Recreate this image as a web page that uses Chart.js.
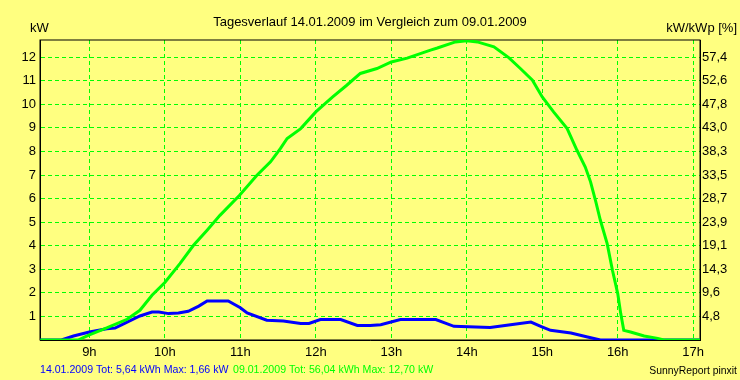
<!DOCTYPE html>
<html>
<head>
<meta charset="utf-8">
<script src="https://cdn.jsdelivr.net/npm/chart.js@4/dist/chart.umd.min.js"></script>
<style>
  html, body { margin: 0; padding: 0; background: #FFFF80; }
  #wrap { width: 740px; height: 380px; }
</style>
</head>
<body>
<div id="wrap"><canvas id="c" width="740" height="380"></canvas></div>
<script>
// ---- data (time in decimal hours, power in kW) ----
const titleText = 'Tagesverlauf 14.01.2009 im Vergleich zum 09.01.2009';
const leftUnit = 'kW';
const rightUnit = 'kW/kWp [%]';
const blueLegend = '14.01.2009 Tot: 5,64 kWh Max: 1,66 kW';
const greenLegend = '09.01.2009 Tot: 56,04 kWh Max: 12,70 kW';
const footerText = 'SunnyReport pinxit';

const xTickValues = [9, 10, 11, 12, 13, 14, 15, 16, 17];
const xTickLabels = ['9h', '10h', '11h', '12h', '13h', '14h', '15h', '16h', '17h'];
const yTickValues = [1, 2, 3, 4, 5, 6, 7, 8, 9, 10, 11, 12];
const yTickLabels = ['1', '2', '3', '4', '5', '6', '7', '8', '9', '10', '11', '12'];
const y2TickLabels = ['4,8', '9,6', '14,3', '19,1', '23,9', '28,7', '33,5', '38,3', '43,0', '47,8', '52,6', '57,4'];

const greenTimes = [8.35, 8.85, 9.00, 9.23, 9.50, 9.67, 9.83, 10.00, 10.20, 10.38, 10.56, 10.73, 10.99, 11.22, 11.40, 11.53, 11.62, 11.80, 12.00, 12.22, 12.41, 12.59, 12.81, 13.00, 13.21, 13.52, 13.61, 13.85, 14.00, 14.14, 14.36, 14.56, 14.71, 14.87, 15.00, 15.15, 15.33, 15.46, 15.57, 15.64, 15.71, 15.77, 15.86, 15.93, 16.00, 16.04, 16.08, 16.17, 16.35, 16.53, 16.61, 17.09];
const greenValues = [0, 0, 0.22, 0.51, 0.88, 1.26, 1.90, 2.44, 3.24, 4.02, 4.66, 5.29, 6.14, 6.99, 7.56, 8.12, 8.55, 8.97, 9.68, 10.31, 10.81, 11.31, 11.52, 11.80, 11.96, 12.30, 12.39, 12.65, 12.70, 12.65, 12.44, 11.97, 11.52, 11.02, 10.31, 9.68, 8.97, 8.05, 7.34, 6.71, 5.86, 5.08, 4.09, 2.96, 1.97, 1.12, 0.41, 0.34, 0.17, 0.07, 0, 0];

const blueTimes = [8.35, 8.63, 8.79, 9.00, 9.23, 9.34, 9.50, 9.67, 9.83, 9.92, 10.05, 10.18, 10.31, 10.45, 10.56, 10.84, 11.00, 11.09, 11.35, 11.57, 11.80, 11.91, 12.06, 12.33, 12.55, 12.72, 12.86, 13.12, 13.59, 13.83, 14.31, 14.58, 14.85, 14.98, 15.11, 15.38, 15.60, 15.77, 17.09];
const blueValues = [0, 0, 0.17, 0.34, 0.48, 0.51, 0.76, 1.02, 1.19, 1.19, 1.12, 1.15, 1.22, 1.44, 1.66, 1.66, 1.37, 1.15, 0.84, 0.81, 0.70, 0.70, 0.87, 0.87, 0.62, 0.62, 0.65, 0.87, 0.87, 0.58, 0.53, 0.65, 0.76, 0.58, 0.41, 0.30, 0.13, 0, 0];

const toPoints = (ts, vs) => ts.map((t, i) => ({ x: t, y: vs[i] }));

const FONT = '"Liberation Sans", Arial, sans-serif';
const BG = '#FFFF80';
const GRID = '#00FF00';

const decorPlugin = {
  id: 'decor',
  beforeDraw(chart) {
    const ctx = chart.ctx;
    ctx.save();
    ctx.fillStyle = BG;
    ctx.fillRect(0, 0, chart.width, chart.height);
    ctx.restore();
  },
  beforeDatasetsDraw(chart) {
    const { ctx, chartArea: a } = chart;
    ctx.save();
    ctx.strokeStyle = '#000';
    ctx.lineWidth = 1;
    ctx.strokeRect(a.left, a.top, a.right - a.left, a.bottom - a.top);
    ctx.restore();
  },
  afterDraw(chart) {
    const ctx = chart.ctx;
    ctx.save();
    ctx.textBaseline = 'alphabetic';
    ctx.fillStyle = '#000';
    ctx.font = '13px ' + FONT;
    ctx.textAlign = 'center';
    ctx.fillText(titleText, 370, 26);
    ctx.textAlign = 'left';
    ctx.fillText(leftUnit, 30, 32);
    ctx.textAlign = 'right';
    ctx.fillText(rightUnit, 737, 32);
    ctx.font = '10.6px ' + FONT;
    ctx.textAlign = 'left';
    ctx.fillStyle = '#0000FF';
    ctx.fillText(blueLegend, 40, 373);
    ctx.fillStyle = '#00FF00';
    ctx.fillText(greenLegend, 233, 373);
    ctx.fillStyle = '#000';
    ctx.textAlign = 'right';
    ctx.font = '10.4px ' + FONT;
    ctx.fillText(footerText, 737, 374);
    ctx.restore();
  }
};

new Chart(document.getElementById('c'), {
  type: 'line',
  data: {
    datasets: [
      {
        label: '09.01.2009',
        data: toPoints(greenTimes, greenValues),
        borderColor: '#00FF00',
        borderWidth: 3,
        pointRadius: 0,
        tension: 0,
        fill: false,
        yAxisID: 'y',
        order: 0
      },
      {
        label: '14.01.2009',
        data: toPoints(blueTimes, blueValues),
        borderColor: '#0000FF',
        borderWidth: 3,
        pointRadius: 0,
        tension: 0,
        fill: false,
        yAxisID: 'y',
        order: 1
      }
    ]
  },
  options: {
    responsive: false,
    devicePixelRatio: 1,
    animation: false,
    layout: { padding: { top: 40, left: 0, right: 0, bottom: 0 } },
    plugins: {
      legend: { display: false },
      title: { display: false },
      tooltip: { enabled: false }
    },
    scales: {
      x: {
        type: 'linear',
        min: 8.346,
        max: 17.09,
        afterBuildTicks(scale) { scale.ticks = xTickValues.map(v => ({ value: v })); },
        afterFit(scale) { scale.height = 40; },
        ticks: {
          autoSkip: false,
          maxRotation: 0,
          padding: 5,
          color: '#000',
          font: { family: FONT, size: 13 },
          callback(v, i) { return xTickLabels[i]; }
        },
        grid: { display: true, color: GRID, lineWidth: 1, drawTicks: false },
        border: { display: true, color: '#000', width: 1, dash: [4, 3] }
      },
      y: {
        type: 'linear',
        position: 'left',
        min: 0,
        max: 12.73,
        afterBuildTicks(scale) { scale.ticks = yTickValues.map(v => ({ value: v })); },
        afterFit(scale) { scale.width = 40; },
        ticks: {
          autoSkip: false,
          padding: 4,
          color: '#000',
          font: { family: FONT, size: 13 },
          callback(v, i) { return yTickLabels[i]; }
        },
        grid: { display: true, color: GRID, lineWidth: 1, drawTicks: false },
        border: { display: true, color: '#000', width: 1, dash: [4, 3] }
      },
      y2: {
        type: 'linear',
        position: 'right',
        min: 0,
        max: 12.73,
        afterBuildTicks(scale) { scale.ticks = yTickValues.map(v => ({ value: v })); },
        afterFit(scale) { scale.width = 40; },
        ticks: {
          autoSkip: false,
          padding: 2,
          color: '#000',
          font: { family: FONT, size: 13 },
          callback(v, i) { return y2TickLabels[i]; }
        },
        grid: { display: false, drawTicks: false },
        border: { display: true, color: '#000', width: 1 }
      }
    }
  },
  plugins: [decorPlugin]
});
</script>
</body>
</html>
